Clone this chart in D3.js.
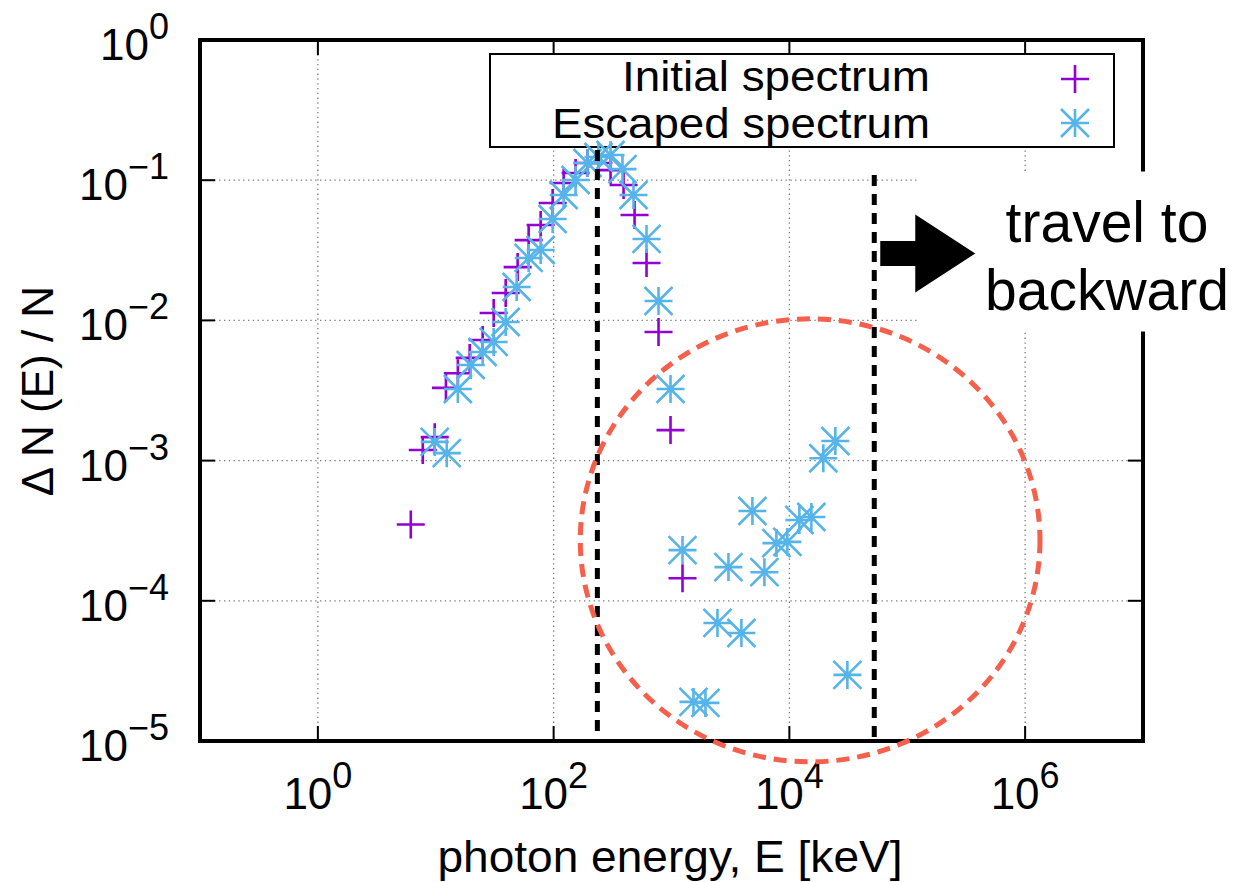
<!DOCTYPE html>
<html>
<head>
<meta charset="utf-8">
<script src="https://cdn.jsdelivr.net/npm/d3@7"></script>
<style>
  html, body { margin: 0; background: #fff; }
  svg { display: block; }
</style>
</head>
<body>
<div id="chart"></div>
<script>
// Initial spectrum (purple +)
const initialE = [6.14, 7.76, 9.8, 12.2, 15.4, 19.4, 25.0, 31.0, 39.2, 49.5, 61.4, 77.6,
                  98.1, 121.6, 153.6, 194, 240, 304, 392, 486, 614, 776, 981, 1240];
const initialN = [3.5e-4, 1.19e-3, 1.47e-3, 3.3e-3, 4.2e-3, 5.4e-3, 7.25e-3, 1.13e-2, 1.57e-2,
                  2.4e-2, 3.74e-2, 4.79e-2, 6.88e-2, 9.55e-2, 0.1125, 0.1327, 0.1327, 0.118,
                  0.0924, 0.0565, 0.0257, 8.27e-3, 1.65e-3, 1.45e-4];

// Escaped spectrum (blue asterisk)
const escapedE = [9.8, 12.4, 15.4, 19.8, 25.0, 31.0, 39.2, 48.6, 61.4, 77.6, 98.1, 121.6,
                  153.6, 194, 240, 304, 384, 476, 614, 776, 981, 1240, 1536, 1941, 2454,
                  3041, 3917, 4856, 6140, 7762, 9616, 12160, 15360, 19410, 24540, 31040];
const escapedN = [1.36e-3, 1.13e-3, 3.24e-3, 4.81e-3, 5.95e-3, 7.02e-3, 9.74e-3, 1.73e-2,
                  2.79e-2, 3.18e-2, 5.29e-2, 7.84e-2, 0.1003, 0.1327, 0.1464, 0.1513, 0.12,
                  0.0784, 0.0381, 0.01375, 3.24e-3, 2.3e-4, 1.9e-5, 1.87e-5, 6.95e-5, 1.74e-4,
                  5.89e-5, 4.37e-4, 1.6e-4, 2.58e-4, 2.63e-4, 3.77e-4, 3.96e-4, 1.04e-3,
                  1.38e-3, 2.96e-5];

// axis ticks (exponents of ten)
const xTickExps = [0, 2, 4, 6];
const yTickExps = [0, -1, -2, -3, -4, -5];

// annotations
const cutEnergies = [235, 52500];
const cutTops = [0.164, 0.109];
const cutBottoms = [1.1e-5, 1e-5];
const circleCenter = [1.5e4, 2.7e-4];
const circleDecades = [1.95, 1.58];
const arrowLevel = 0.03;
const arrowText = ['travel to', 'backward'];
const seriesNames = ['Initial spectrum', 'Escaped spectrum'];
const seriesNameWidths = [308, 378];

const W = 1237, H = 882;
const FONT = '"Liberation Sans", Arial, Helvetica, sans-serif';
const purple = '#9400d3';
const skyblue = '#56b4e9';

const svg = d3.select('#chart').append('svg')
    .attr('width', W)
    .attr('height', H)
    .attr('font-family', FONT);

const x = d3.scaleLog().domain([0.1, 1e7]).range([200, 1143]);
const y = d3.scaleLog().domain([1, 1e-5]).range([40, 741]);
const [x0, x1] = x.range();
const [y0, y1] = [y(1), y(1e-5)];

// grid
const grid = svg.append('g')
    .attr('stroke', '#777')
    .attr('stroke-width', 1.3)
    .attr('stroke-dasharray', '1.3,3.5');
grid.selectAll('.gx')
    .data(xTickExps)
    .join('line')
    .attr('x1', d => x(Math.pow(10, d))).attr('x2', d => x(Math.pow(10, d)))
    .attr('y1', y0).attr('y2', y1);
grid.selectAll('.gy')
    .data(yTickExps.slice(1, -1))
    .join('line')
    .attr('y1', d => y(Math.pow(10, d))).attr('y2', d => y(Math.pow(10, d)))
    .attr('x1', x0).attr('x2', x1);

// ticks, inward on all four sides
const ticks = svg.append('g').attr('stroke', '#000').attr('stroke-width', 2);
xTickExps.forEach(e => {
    const px = x(Math.pow(10, e));
    ticks.append('line').attr('x1', px).attr('x2', px).attr('y1', y1).attr('y2', y1 - 15);
    ticks.append('line').attr('x1', px).attr('x2', px).attr('y1', y0).attr('y2', y0 + 15);
});
yTickExps.forEach(e => {
    const py = y(Math.pow(10, e));
    ticks.append('line').attr('x1', x0).attr('x2', x0 + 15).attr('y1', py).attr('y2', py);
    ticks.append('line').attr('x1', x1).attr('x2', x1 - 15).attr('y1', py).attr('y2', py);
});

// tick labels
function powLabel(sel, e) {
    sel.append('tspan').text('10');
    sel.append('tspan')
        .attr('dy', -21)
        .attr('font-size', 36)
        .text(e < 0 ? '\u2212' + (-e) : String(e));
}
xTickExps.forEach(e => {
    const t = svg.append('text')
        .attr('x', x(Math.pow(10, e)))
        .attr('y', 809)
        .attr('text-anchor', 'middle')
        .attr('font-size', 44);
    powLabel(t, e);
});
yTickExps.forEach(e => {
    const t = svg.append('text')
        .attr('x', 169)
        .attr('y', y(Math.pow(10, e)) + 20)
        .attr('text-anchor', 'end')
        .attr('font-size', 44);
    powLabel(t, e);
});

// axis titles
svg.append('text')
    .attr('x', 670).attr('y', 872)
    .attr('text-anchor', 'middle')
    .attr('font-size', 45)
    .attr('textLength', 465)
    .attr('lengthAdjust', 'spacingAndGlyphs')
    .text('photon energy, E [keV]');
svg.append('text')
    .attr('transform', 'translate(53,391) rotate(-90)')
    .attr('text-anchor', 'middle')
    .attr('font-size', 44)
    .text('\u0394 N (E) / N');

// frame
svg.append('rect')
    .attr('x', x0).attr('y', y0)
    .attr('width', x1 - x0).attr('height', y1 - y0)
    .attr('fill', 'none')
    .attr('stroke', '#000')
    .attr('stroke-width', 4);

// legend
const legend = svg.append('g');
legend.append('rect')
    .attr('x', 490).attr('y', 54).attr('width', 624).attr('height', 93)
    .attr('fill', '#fff').attr('stroke', '#000').attr('stroke-width', 2);
seriesNames.forEach((name, i) => {
    legend.append('text')
        .attr('x', 930).attr('y', 91 + i * 47)
        .attr('text-anchor', 'end')
        .attr('font-size', 42)
        .attr('textLength', seriesNameWidths[i])
        .attr('lengthAdjust', 'spacingAndGlyphs')
        .text(name);
});

const plusPath = 'M-14,0H14M0,-14V14';
const starPath = plusPath + 'M-14,-14L14,14M-14,14L14,-14';

legend.append('path')
    .attr('transform', 'translate(1075,79)')
    .attr('d', plusPath).attr('stroke', purple).attr('stroke-width', 2.6).attr('fill', 'none');
legend.append('path')
    .attr('transform', 'translate(1075,123)')
    .attr('d', starPath).attr('stroke', skyblue).attr('stroke-width', 2.6).attr('fill', 'none');

// data points
const initialPts = initialE.map((e, i) => ({ e, n: initialN[i] }));
const escapedPts = escapedE.map((e, i) => ({ e, n: escapedN[i] }));

svg.append('g')
    .selectAll('path')
    .data(initialPts)
    .join('path')
    .attr('transform', d => `translate(${x(d.e)},${y(d.n)})`)
    .attr('d', plusPath)
    .attr('fill', 'none')
    .attr('stroke', purple)
    .attr('stroke-width', 2.6);

svg.append('g')
    .selectAll('path')
    .data(escapedPts)
    .join('path')
    .attr('transform', d => `translate(${x(d.e)},${y(d.n)})`)
    .attr('d', starPath)
    .attr('fill', 'none')
    .attr('stroke', skyblue)
    .attr('stroke-width', 2.6);

// black dashed energy cuts
svg.append('g')
    .selectAll('line')
    .data(cutEnergies)
    .join('line')
    .attr('x1', d => x(d)).attr('x2', d => x(d))
    .attr('y1', (d, i) => y(cutTops[i]))
    .attr('y2', (d, i) => y(cutBottoms[i]))
    .attr('stroke', '#000')
    .attr('stroke-width', 5)
    .attr('stroke-dasharray', '11,8');

// red dashed circle round the scattered photons
const cx = x(circleCenter[0]), cy = y(circleCenter[1]);
svg.append('ellipse')
    .attr('cx', cx).attr('cy', cy)
    .attr('rx', x(circleCenter[0] * Math.pow(10, circleDecades[0])) - cx)
    .attr('ry', y(circleCenter[1] / Math.pow(10, circleDecades[1])) - cy)
    .attr('fill', 'none')
    .attr('stroke', '#f4604c')
    .attr('stroke-width', 5)
    .attr('stroke-dasharray', '13,8');

// arrow + "travel to backward" box
const ax = x(cutEnergies[1]) + 6, ay = y(arrowLevel);
svg.append('rect')
    .attr('x', ax + 37).attr('y', ay - 82)
    .attr('width', W - ax - 37).attr('height', 160)
    .attr('fill', '#fff');
svg.append('path')
    .attr('transform', `translate(${ax},${ay})`)
    .attr('d', 'M0,-12.5H35V-39L95,0L35,39V12.5H0Z')
    .attr('fill', '#000');
arrowText.forEach((t, i) => {
    svg.append('text')
        .attr('x', 1107).attr('y', ay - 12 + i * 68)
        .attr('text-anchor', 'middle')
        .attr('font-size', 57)
        .text(t);
});
</script>
</body>
</html>
